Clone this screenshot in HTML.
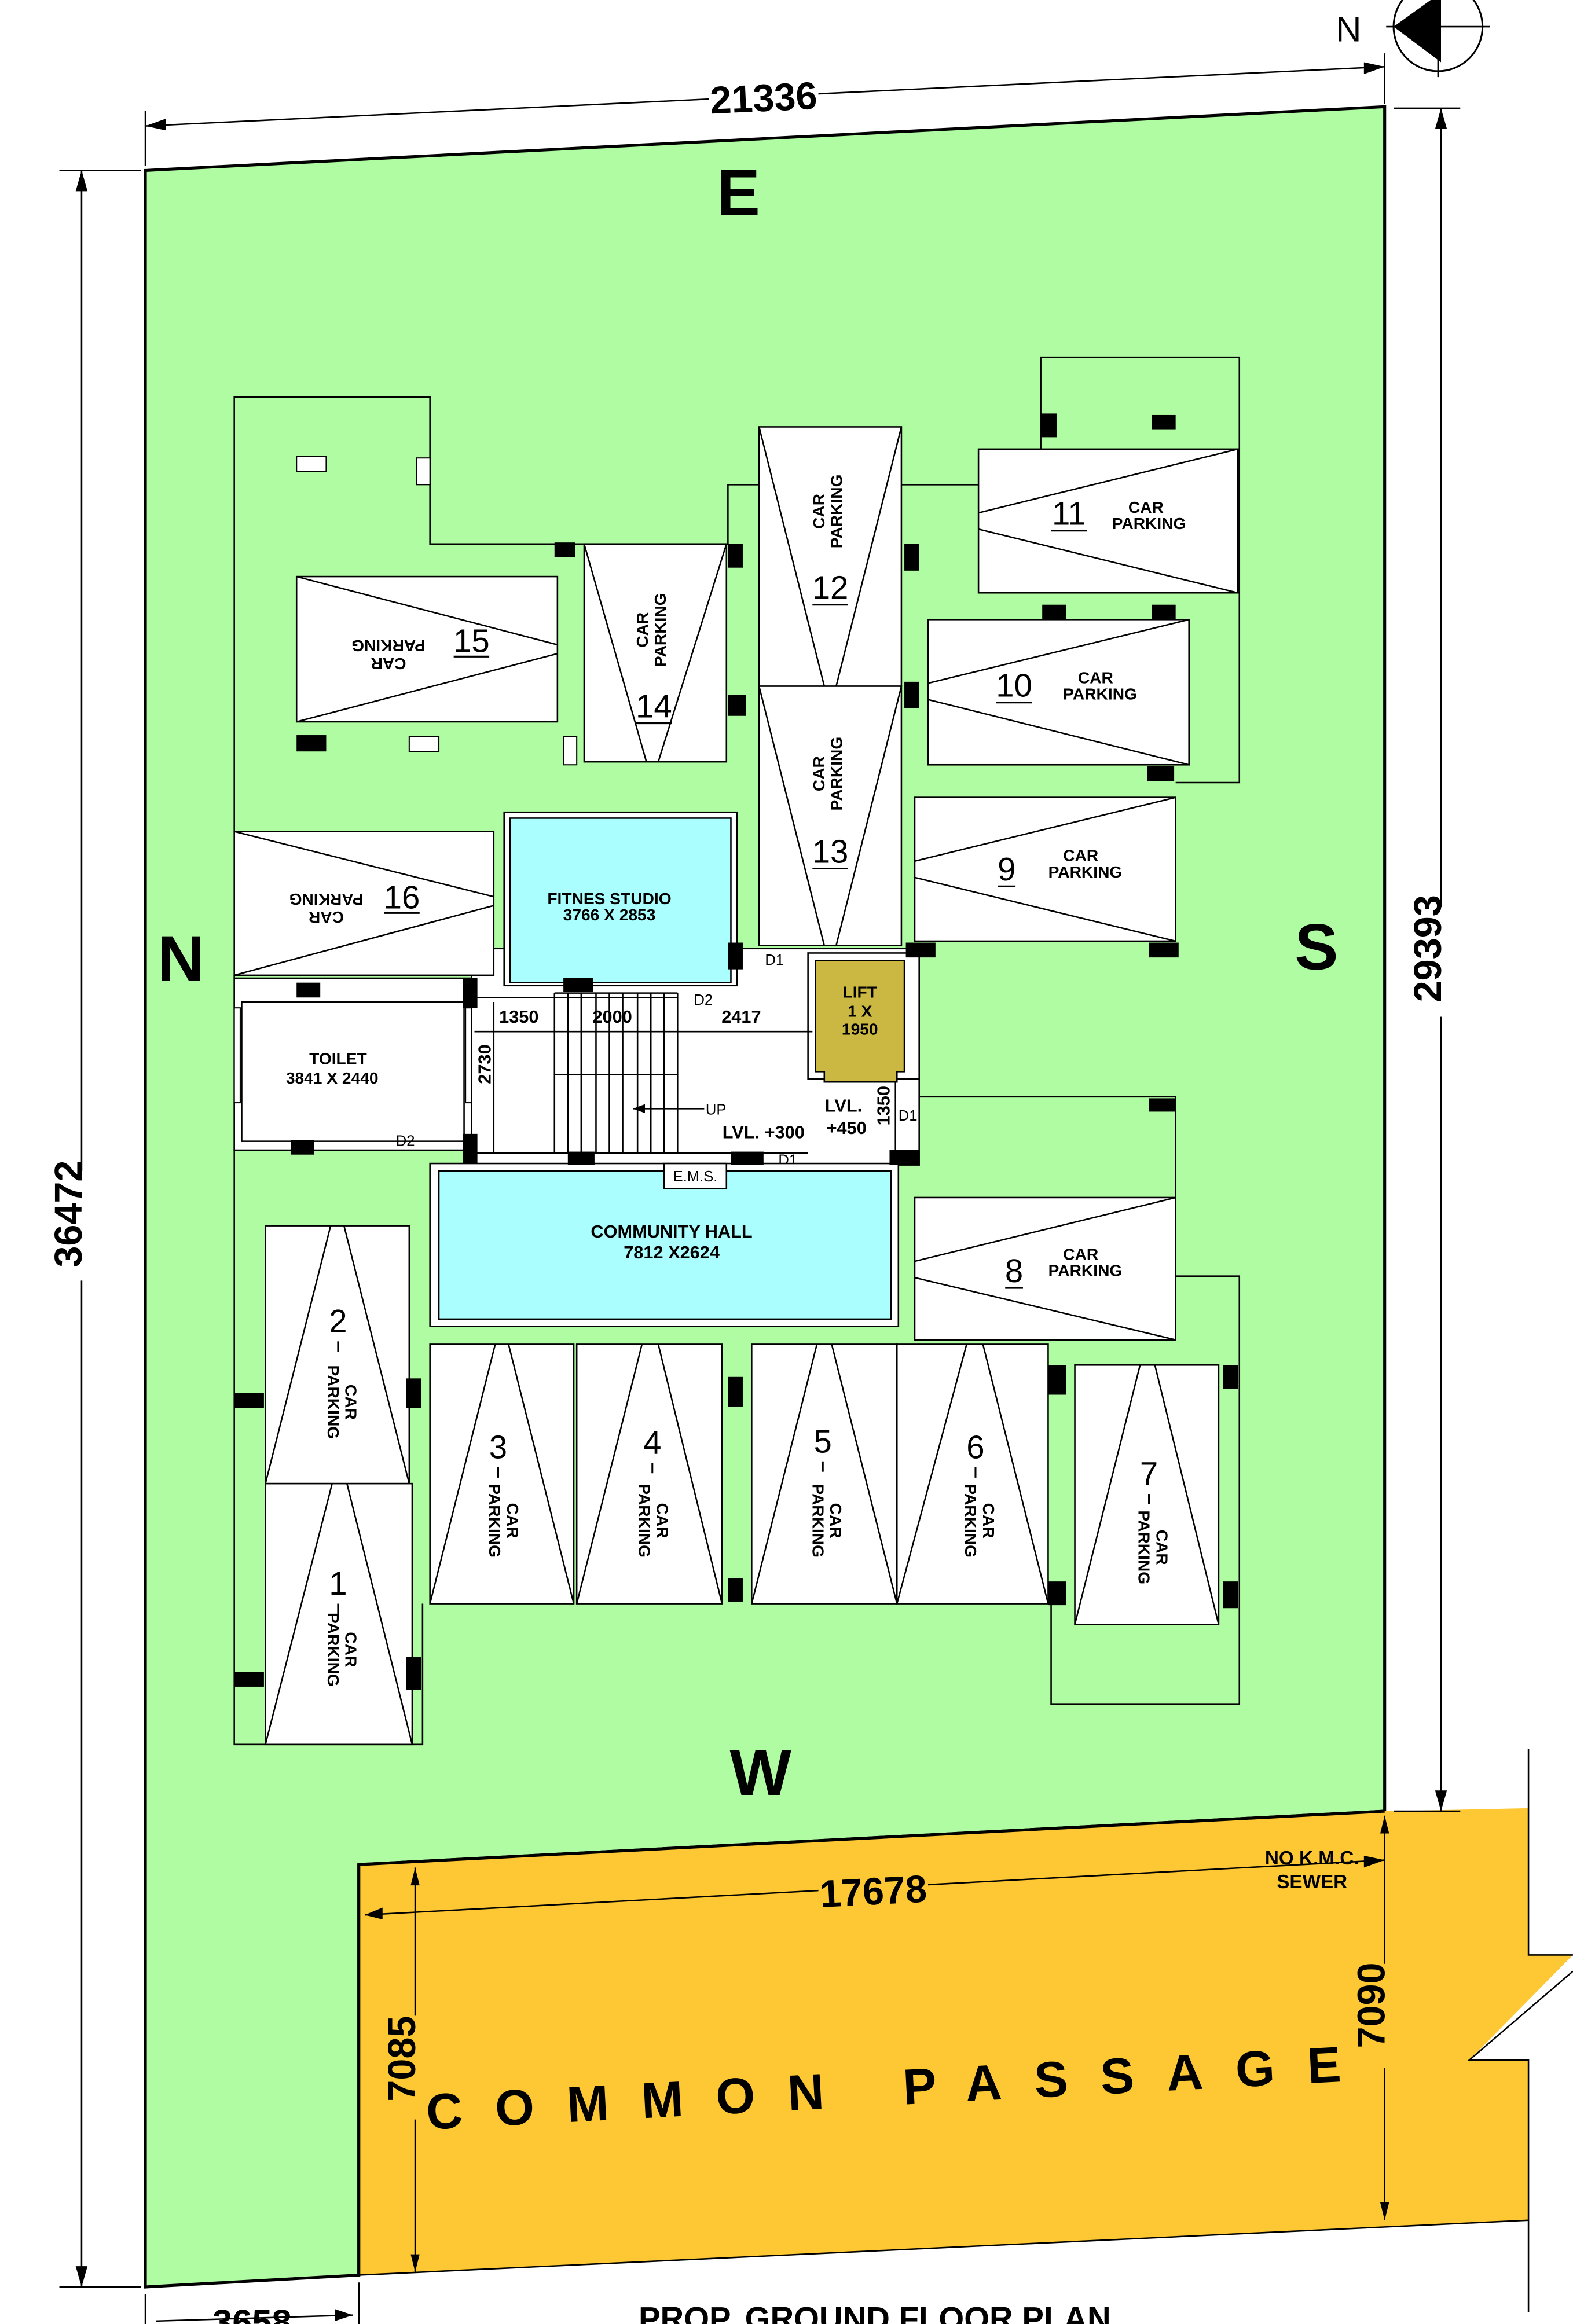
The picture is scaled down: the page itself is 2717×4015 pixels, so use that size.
<!DOCTYPE html>
<html><head><meta charset="utf-8"><style>
html,body{margin:0;padding:0;background:#fff;}
svg{display:block;}
text{font-family:"Liberation Sans",sans-serif;fill:#000;}
</style></head><body>
<svg width="2717" height="4015" viewBox="0 0 1061 1568" xmlns="http://www.w3.org/2000/svg">
<rect x="0" y="0" width="1061" height="1568" fill="#fff"/>
<polygon points="98,115 934,72 934,1222 242,1258 242,1535 98,1543" fill="#b0fca2" stroke="#000" stroke-width="2"/>
<polygon points="242,1258 934,1222 1031,1220 1031,1319 1061,1319 991,1390 1031,1390 1031,1498 242,1535" fill="#fdc834" stroke="none"/>
<line x1="242" y1="1258" x2="934" y2="1222" stroke="#000" stroke-width="2"/>
<line x1="242" y1="1258" x2="242" y2="1535" stroke="#000" stroke-width="2"/>
<line x1="242" y1="1535" x2="1031" y2="1498" stroke="#000" stroke-width="1"/>
<polyline points="1031,1180 1031,1319 1061,1319" fill="none" stroke="#000" stroke-width="1"/>
<polyline points="1061,1330 991,1390 1031,1390 1031,1560" fill="none" stroke="#000" stroke-width="1"/>

<g stroke="#000" stroke-width="1" fill="none">
<line x1="98" y1="85" x2="934" y2="45"/>
<line x1="98" y1="75" x2="98" y2="112"/>
<line x1="934" y1="36" x2="934" y2="70"/>
<line x1="972" y1="73" x2="972" y2="1222"/>
<line x1="940" y1="73" x2="985" y2="73"/>
<line x1="940" y1="1222" x2="985" y2="1222"/>
<line x1="55" y1="115" x2="55" y2="1543"/>
<line x1="40" y1="115" x2="95" y2="115"/>
<line x1="40" y1="1543" x2="95" y2="1543"/>
<line x1="98" y1="1548" x2="98" y2="1568"/>
<line x1="242" y1="1540" x2="242" y2="1568"/>
<line x1="105" y1="1566" x2="238" y2="1562"/>
<line x1="246" y1="1292" x2="934" y2="1255"/>
<line x1="280" y1="1260" x2="280" y2="1533"/>
<line x1="934" y1="1225" x2="934" y2="1498"/>
</g>
<g fill="#000">
<polygon points="98,85 112,80 112,88"/><polygon points="934,45 920,42 920,50"/>
<polygon points="972,73 968,87 976,87"/><polygon points="972,1222 968,1208 976,1208"/>
<polygon points="55,115 51,129 59,129"/><polygon points="55,1543 51,1529 59,1529"/>
<polygon points="246,1292 258,1287 258,1295"/><polygon points="934,1255 920,1252 920,1260"/>
<polygon points="280,1260 277,1272 283,1272"/><polygon points="280,1533 277,1521 283,1521"/>
<polygon points="934,1225 931,1237 937,1237"/><polygon points="934,1498 931,1486 937,1486"/>
<polygon points="238,1562 226,1558 226,1566"/>
</g>
<rect x="478" y="52" width="74" height="26" fill="#fff"/>
<text x="515" y="75" font-size="26" font-weight="bold" text-anchor="middle" transform="rotate(-2.7 515 66)">21336</text>
<rect x="960" y="612" width="26" height="74" fill="#fff"/>
<text x="981" y="649" font-size="26" font-weight="bold" text-anchor="middle" transform="rotate(-90 972 649)">29393</text>
<rect x="42" y="790" width="26" height="74" fill="#fff"/>
<text x="64" y="828" font-size="26" font-weight="bold" text-anchor="middle" transform="rotate(-90 55 828)">36472</text>
<text x="170" y="1575" font-size="24" font-weight="bold" text-anchor="middle">3658</text>
<text x="590" y="1572" font-size="22" font-weight="bold" text-anchor="middle">PROP. GROUND FLOOR PLAN</text>
<rect x="552" y="1265" width="74" height="26" fill="#fdc834"/>
<text x="589" y="1285" font-size="26" font-weight="bold" text-anchor="middle" transform="rotate(-3 589 1276)">17678</text>
<text x="885" y="1258" font-size="13" font-weight="bold" text-anchor="middle">NO K.M.C.</text>
<text x="885" y="1274" font-size="13" font-weight="bold" text-anchor="middle">SEWER</text>
<rect x="267" y="1360" width="26" height="70" fill="#fdc834"/>
<text x="289" y="1398" font-size="26" font-weight="bold" text-anchor="middle" transform="rotate(-90 280 1398)">7085</text>
<rect x="921" y="1325" width="26" height="70" fill="#fdc834"/>
<text x="943" y="1362" font-size="26" font-weight="bold" text-anchor="middle" transform="rotate(-90 934 1362)">7090</text>
<text x="607" y="1420" font-size="34" font-weight="bold" text-anchor="middle" letter-spacing="22" transform="rotate(-3 607 1410)">COMMON   PASSAGE</text>

<circle cx="970" cy="18" r="30" fill="none" stroke="#000" stroke-width="1.2"/>
<line x1="935" y1="18" x2="1005" y2="18" stroke="#000"/><line x1="970" y1="-15" x2="970" y2="52" stroke="#000"/>
<polygon points="940,18 972,-5 972,42" fill="#000"/>
<text x="901" y="28" font-size="24">N</text>

<text x="498" y="145" font-size="44" font-weight="bold" text-anchor="middle">E</text>
<text x="122" y="662" font-size="44" font-weight="bold" text-anchor="middle">N</text>
<text x="888" y="654" font-size="44" font-weight="bold" text-anchor="middle">S</text>
<text x="513" y="1211" font-size="44" font-weight="bold" text-anchor="middle">W</text>

<g stroke="#000" stroke-width="1" fill="none">
<polyline points="158,561 158,268 290,268 290,367 491,367 491,327 702,327 702,241 836,241 836,528 793,528"/>
<polyline points="158,658 158,1177 285,1177 285,1082"/>
<polyline points="620,640 620,740 793,740 793,808"/>
<polyline points="793,861 836,861 836,1150 709,1150 709,1082"/>
</g>

<rect x="318" y="640" width="302" height="146" fill="#fff" stroke="#000" stroke-width="1"/>
<rect x="158" y="660" width="160" height="116" fill="#fff" stroke="#000" stroke-width="1"/>
<rect x="163" y="676" width="150" height="94" fill="#fff" stroke="#000" stroke-width="1"/>
<rect x="158" y="680" width="4" height="64" fill="#fff" stroke="#000" stroke-width="0.8"/>
<rect x="314" y="680" width="4" height="64" fill="#fff" stroke="#000" stroke-width="0.8"/>
<text x="228" y="718" font-size="11" font-weight="bold" text-anchor="middle">TOILET</text>
<text x="224" y="731" font-size="11" font-weight="bold" text-anchor="middle">3841 X 2440</text>
<rect x="340" y="548" width="157" height="117" fill="#fff" stroke="#000" stroke-width="1"/>
<rect x="344" y="552" width="149" height="111" fill="#abfefe" stroke="#000" stroke-width="1"/>
<text x="411" y="610" font-size="11" font-weight="bold" text-anchor="middle">FITNES STUDIO</text>
<text x="411" y="621" font-size="11" font-weight="bold" text-anchor="middle">3766 X 2853</text>
<rect x="545" y="643" width="75" height="85" fill="#fff" stroke="#000" stroke-width="1"/>
<polygon points="550,648 610,648 610,723 605,723 605,730 556,730 556,723 550,723" fill="#cbb842" stroke="#000" stroke-width="1"/>
<text x="580" y="673" font-size="11" font-weight="bold" text-anchor="middle" font-family="Liberation Serif">LIFT</text>
<text x="580" y="686" font-size="11" font-weight="bold" text-anchor="middle" font-family="Liberation Serif">1    X</text>
<text x="580" y="698" font-size="11" font-weight="bold" text-anchor="middle" font-family="Liberation Serif">1950</text>
<g stroke="#000" stroke-width="1">
<line x1="374" y1="670" x2="374" y2="778"/><line x1="383" y1="670" x2="383" y2="778"/>
<line x1="392" y1="670" x2="392" y2="778"/><line x1="402" y1="670" x2="402" y2="778"/>
<line x1="411" y1="670" x2="411" y2="778"/><line x1="420" y1="670" x2="420" y2="778"/>
<line x1="430" y1="670" x2="430" y2="778"/><line x1="439" y1="670" x2="439" y2="778"/>
<line x1="448" y1="670" x2="448" y2="778"/><line x1="457" y1="670" x2="457" y2="778"/>
<line x1="374" y1="670" x2="457" y2="670"/><line x1="374" y1="725" x2="457" y2="725"/>
<line x1="318" y1="673" x2="457" y2="673"/>
<line x1="320" y1="696" x2="548" y2="696"/>
<line x1="333" y1="676" x2="333" y2="778"/>
<line x1="427" y1="748" x2="475" y2="748"/>
<line x1="604" y1="730" x2="604" y2="780"/>
<line x1="318" y1="778" x2="545" y2="778"/>
</g>
<polygon points="427,748 435,745 435,751" fill="#000"/>
<text x="350" y="690" font-size="12" font-weight="bold" text-anchor="middle">1350</text>
<text x="413" y="690" font-size="12" font-weight="bold" text-anchor="middle">2000</text>
<text x="500" y="690" font-size="12" font-weight="bold" text-anchor="middle">2417</text>
<text x="335" y="722" font-size="12" font-weight="bold" text-anchor="middle" transform="rotate(-90 331 722)">2730</text>
<text x="600" y="754" font-size="12" font-weight="bold" text-anchor="middle" transform="rotate(-90 596 750)">1350</text>
<text x="476" y="752" font-size="10">UP</text>
<text x="515" y="768" font-size="12" font-weight="bold" text-anchor="middle">LVL. +300</text>
<text x="569" y="750" font-size="12" font-weight="bold" text-anchor="middle">LVL.</text>
<text x="571" y="765" font-size="12" font-weight="bold" text-anchor="middle">+450</text>
<g font-size="10">
<text x="516" y="651">D1</text><text x="606" y="756">D1</text><text x="525" y="786">D1</text>
<text x="468" y="678">D2</text><text x="267" y="773">D2</text><text x="291" y="806">D2</text>
</g>
<rect x="290" y="785" width="316" height="110" fill="#fff" stroke="#000" stroke-width="1"/>
<rect x="296" y="790" width="305" height="100" fill="#abfefe" stroke="#000" stroke-width="1"/>
<rect x="448" y="785" width="42" height="17" fill="#fff" stroke="#000" stroke-width="1"/>
<text x="469" y="797" font-size="10" text-anchor="middle">E.M.S.</text>
<text x="453" y="835" font-size="12" font-weight="bold" text-anchor="middle">COMMUNITY HALL</text>
<text x="453" y="849" font-size="12" font-weight="bold" text-anchor="middle">7812 X2624</text>

<g fill="#fff" stroke="#000" stroke-width="1">
<rect x="200" y="389" width="176" height="98"/>
<rect x="394" y="367" width="96" height="147"/>
<rect x="512" y="288" width="96" height="175"/>
<rect x="512" y="463" width="96" height="175"/>
<rect x="660" y="303" width="175" height="97"/>
<rect x="626" y="418" width="176" height="98"/>
<rect x="617" y="538" width="176" height="97"/>
<rect x="617" y="808" width="176" height="96"/>
<rect x="158" y="561" width="175" height="97"/>
<rect x="179" y="827" width="97" height="174"/>
<rect x="179" y="1001" width="99" height="176"/>
<rect x="290" y="907" width="97" height="175"/>
<rect x="389" y="907" width="98" height="175"/>
<rect x="507" y="907" width="98" height="175"/>
<rect x="605" y="907" width="102" height="175"/>
<rect x="725" y="921" width="97" height="175"/>
</g>
<g stroke="#000" stroke-width="1">
<line x1="200" y1="389" x2="376" y2="435"/><line x1="200" y1="487" x2="376" y2="441"/>
<line x1="158" y1="561" x2="333" y2="605"/><line x1="158" y1="658" x2="333" y2="611"/>
<line x1="394" y1="367" x2="436" y2="514"/><line x1="490" y1="367" x2="444" y2="514"/>
<line x1="512" y1="288" x2="556" y2="463"/><line x1="608" y1="288" x2="564" y2="463"/>
<line x1="512" y1="463" x2="556" y2="638"/><line x1="608" y1="463" x2="564" y2="638"/>
<line x1="835" y1="303" x2="660" y2="346"/><line x1="835" y1="400" x2="660" y2="357"/>
<line x1="802" y1="418" x2="626" y2="461"/><line x1="802" y1="516" x2="626" y2="472"/>
<line x1="793" y1="538" x2="617" y2="581"/><line x1="793" y1="635" x2="617" y2="592"/>
<line x1="793" y1="808" x2="617" y2="851"/><line x1="793" y1="904" x2="617" y2="862"/>
<line x1="179" y1="1001" x2="223" y2="827"/><line x1="276" y1="1001" x2="232" y2="827"/>
<line x1="179" y1="1177" x2="224" y2="1001"/><line x1="278" y1="1177" x2="234" y2="1001"/>
<line x1="290" y1="1082" x2="334" y2="907"/><line x1="387" y1="1082" x2="343" y2="907"/>
<line x1="389" y1="1082" x2="433" y2="907"/><line x1="487" y1="1082" x2="444" y2="907"/>
<line x1="507" y1="1082" x2="551" y2="907"/><line x1="605" y1="1082" x2="561" y2="907"/>
<line x1="605" y1="1082" x2="652" y2="907"/><line x1="707" y1="1082" x2="663" y2="907"/>
<line x1="725" y1="1096" x2="769" y2="921"/><line x1="822" y1="1096" x2="779" y2="921"/>
</g>

<g font-size="11" font-weight="bold" text-anchor="middle">
<text transform="translate(262,440) rotate(180)"><tspan x="0" y="-4">CAR</tspan><tspan x="0" y="8">PARKING</tspan></text>
<text transform="translate(220,611) rotate(180)"><tspan x="0" y="-4">CAR</tspan><tspan x="0" y="8">PARKING</tspan></text>
<text transform="translate(441,425) rotate(-90)"><tspan x="0" y="-4">CAR</tspan><tspan x="0" y="8">PARKING</tspan></text>
<text transform="translate(560,345) rotate(-90)"><tspan x="0" y="-4">CAR</tspan><tspan x="0" y="8">PARKING</tspan></text>
<text transform="translate(560,522) rotate(-90)"><tspan x="0" y="-4">CAR</tspan><tspan x="0" y="8">PARKING</tspan></text>
<text x="773" y="346">CAR</text><text x="775" y="357">PARKING</text>
<text x="739" y="461">CAR</text><text x="742" y="472">PARKING</text>
<text x="729" y="581">CAR</text><text x="732" y="592">PARKING</text>
<text x="729" y="850">CAR</text><text x="732" y="861">PARKING</text>
<text transform="translate(229,946) rotate(90)"><tspan x="0" y="-4">CAR</tspan><tspan x="0" y="8">PARKING</tspan></text>
<text transform="translate(229,1113) rotate(90)"><tspan x="0" y="-4">CAR</tspan><tspan x="0" y="8">PARKING</tspan></text>
<text transform="translate(338,1026) rotate(90)"><tspan x="0" y="-4">CAR</tspan><tspan x="0" y="8">PARKING</tspan></text>
<text transform="translate(439,1026) rotate(90)"><tspan x="0" y="-4">CAR</tspan><tspan x="0" y="8">PARKING</tspan></text>
<text transform="translate(556,1026) rotate(90)"><tspan x="0" y="-4">CAR</tspan><tspan x="0" y="8">PARKING</tspan></text>
<text transform="translate(659,1026) rotate(90)"><tspan x="0" y="-4">CAR</tspan><tspan x="0" y="8">PARKING</tspan></text>
<text transform="translate(776,1044) rotate(90)"><tspan x="0" y="-4">CAR</tspan><tspan x="0" y="8">PARKING</tspan></text>
</g>
<g font-size="22" text-anchor="middle">
<text x="318" y="440">15</text><text x="271" y="613">16</text>
<text x="441" y="484">14</text><text x="560" y="404">12</text><text x="560" y="582">13</text>
<text x="721" y="354">11</text><text x="684" y="470">10</text><text x="679" y="594">9</text><text x="684" y="865">8</text>
<text x="228" y="899">2</text><text x="228" y="1076">1</text><text x="336" y="984">3</text><text x="440" y="981">4</text>
<text x="555" y="980">5</text><text x="658" y="984">6</text><text x="775" y="1002">7</text>
</g>
<g stroke="#000" stroke-width="1.2">
<line x1="306" y1="443" x2="330" y2="443"/><line x1="259" y1="616" x2="283" y2="616"/>
<line x1="429" y1="488" x2="453" y2="488"/><line x1="548" y1="408" x2="572" y2="408"/><line x1="548" y1="586" x2="572" y2="586"/>
<line x1="709" y1="358" x2="733" y2="358"/><line x1="672" y1="474" x2="696" y2="474"/><line x1="673" y1="598" x2="685" y2="598"/><line x1="678" y1="869" x2="690" y2="869"/>
<line x1="228" y1="905" x2="228" y2="912"/><line x1="228" y1="1082" x2="228" y2="1089"/><line x1="336" y1="990" x2="336" y2="997"/>
<line x1="440" y1="987" x2="440" y2="994"/><line x1="555" y1="986" x2="555" y2="993"/><line x1="658" y1="990" x2="658" y2="997"/><line x1="775" y1="1008" x2="775" y2="1015"/>
</g>

<g fill="#000">
<rect x="374" y="366" width="14" height="10"/><rect x="491" y="367" width="10" height="16"/>
<rect x="610" y="367" width="10" height="18"/><rect x="702" y="279" width="11" height="16"/>
<rect x="777" y="280" width="16" height="10"/><rect x="703" y="408" width="16" height="10"/>
<rect x="777" y="408" width="16" height="10"/><rect x="491" y="469" width="12" height="14"/>
<rect x="610" y="460" width="10" height="18"/><rect x="200" y="496" width="20" height="11"/>
<rect x="774" y="517" width="18" height="10"/><rect x="491" y="636" width="10" height="18"/>
<rect x="380" y="660" width="20" height="9"/><rect x="611" y="636" width="20" height="10"/>
<rect x="775" y="636" width="20" height="10"/><rect x="200" y="663" width="16" height="10"/>
<rect x="312" y="660" width="10" height="20"/><rect x="312" y="765" width="10" height="20"/>
<rect x="196" y="769" width="16" height="10"/><rect x="383" y="777" width="18" height="9"/>
<rect x="493" y="777" width="22" height="9"/><rect x="600" y="776" width="20" height="10"/>
<rect x="775" y="741" width="18" height="9"/><rect x="158" y="940" width="20" height="10"/>
<rect x="274" y="930" width="10" height="20"/><rect x="158" y="1128" width="20" height="10"/>
<rect x="274" y="1118" width="10" height="22"/><rect x="491" y="929" width="10" height="20"/>
<rect x="491" y="1065" width="10" height="16"/><rect x="707" y="921" width="12" height="20"/>
<rect x="707" y="1067" width="12" height="16"/><rect x="825" y="921" width="10" height="16"/>
<rect x="825" y="1067" width="10" height="18"/>
</g>
<g fill="#fff" stroke="#000" stroke-width="0.8">
<rect x="200" y="308" width="20" height="10"/><rect x="281" y="309" width="9" height="18"/>
<rect x="276" y="497" width="20" height="10"/><rect x="380" y="497" width="9" height="19"/>
</g>
</svg>
</body></html>
